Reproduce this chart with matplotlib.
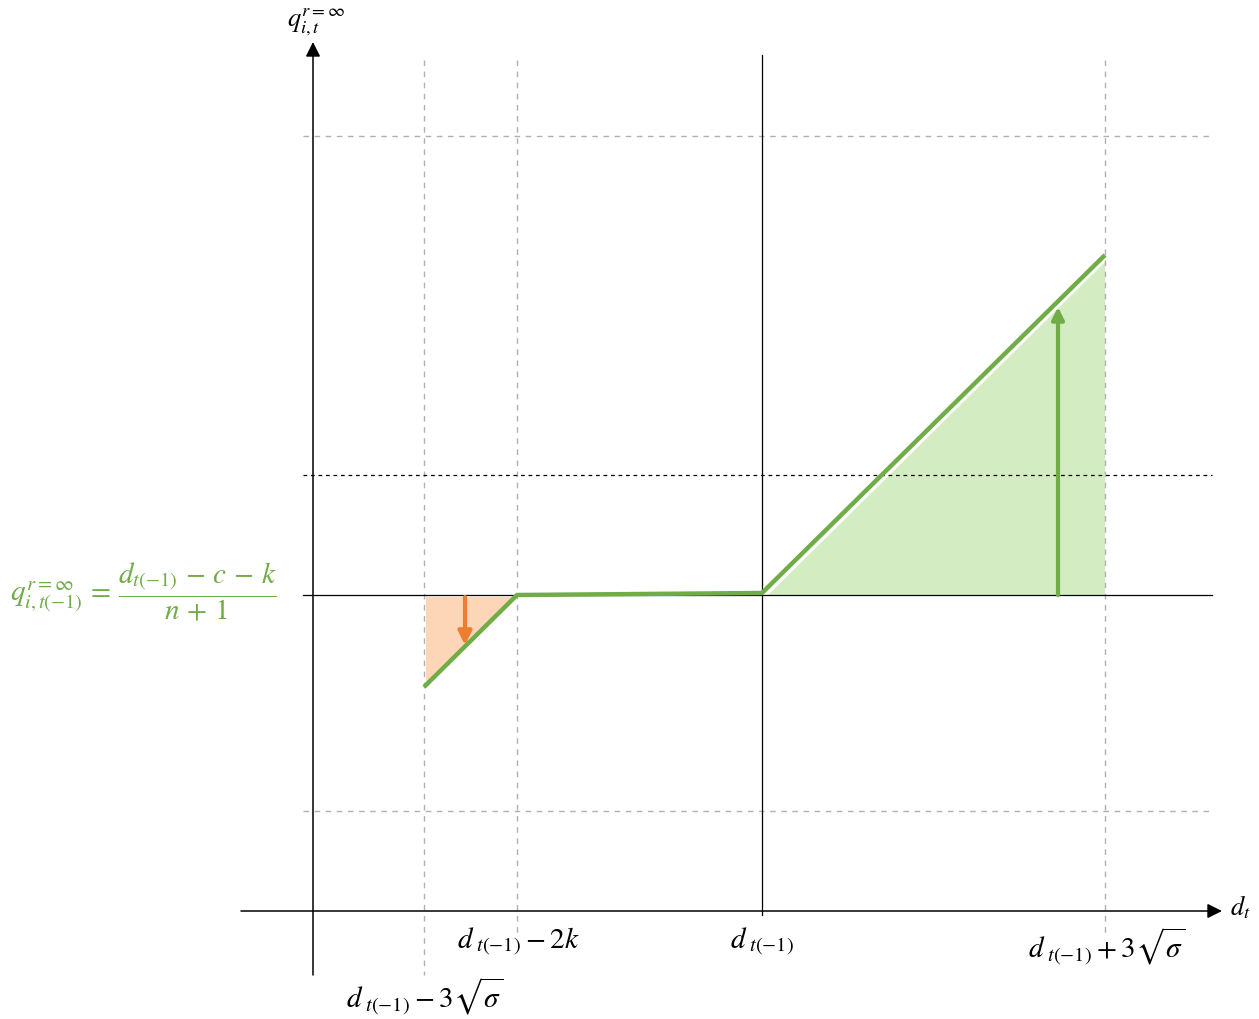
import matplotlib
matplotlib.use("Agg")
import matplotlib.pyplot as plt

plt.rcParams['mathtext.fontset'] = 'stix'
plt.rcParams['font.family'] = ['DejaVu Serif']

# ---- schematic data (drawing units; y grows downward) ----
tick_x = [424, 517, 762, 1105]
tick_labels = [r'$d_{\ t(-1)} - 3\sqrt{\sigma}$', r'$d_{\ t(-1)} - 2k$',
               r'$d_{\ t(-1)}$', r'$d_{\ t(-1)} + 3\sqrt{\sigma}$']
tick_label_x = [425, 518, 762, 1107]
tick_label_y = [996, 942, 942, 946]

curve_x = [424, 517, 762, 1105]
curve_y = [687, 595, 593, 255]

base_y = 595            # q level line
dash_black_y = 475
dash_gray_y = [136, 811]
axis_x0 = 313           # vertical axis
axis_y0 = 911           # horizontal axis

orange_fill_x = [426, 517, 426]
orange_fill_y = [597, 597, 685]
green_fill_x = [768, 1105, 1105]
green_fill_y = [595, 595, 262]

down_arrow = (465, 597, 645)   # x, y start, y end
up_arrow = (1058, 595, 307)

GREEN = '#70ad47'
LGREEN = '#d4ecc2'
ORANGE = '#ed7d31'
LORANGE = '#fdd6b7'
GRAY = '#b0b0b0'

fig = plt.figure(figsize=(12.59, 10.19), dpi=100)
ax = fig.add_axes([0, 0, 1, 1])
ax.set_xlim(0, 1259)
ax.set_ylim(1019, 0)
ax.axis('off')

# fills
ax.fill(orange_fill_x, orange_fill_y, color=LORANGE, lw=0, zorder=1)
ax.fill(green_fill_x, green_fill_y, color=LGREEN, lw=0, zorder=1)

# gray dashed guides
for y in dash_gray_y:
    ax.plot([303, 1212], [y, y], color=GRAY, lw=1, ls=(0, (4, 4)), zorder=2)
for x, yb in zip([424, 517, 1105], [975, 935, 935]):
    ax.plot([x, x], [60, yb], color=GRAY, lw=1, ls=(0, (4, 4)), zorder=2)
ax.plot([303, 1212], [dash_black_y, dash_black_y], color='black', lw=0.9,
        ls=(0, (3, 3)), zorder=2)

# solid lines
ax.plot([303, 1212], [base_y, base_y], color='black', lw=0.9, zorder=2)
ax.plot([762, 762], [55, 915], color='black', lw=0.9, zorder=2)

# axes with arrows
ax.annotate('', xy=(1222, axis_y0), xytext=(241, axis_y0),
            arrowprops=dict(arrowstyle='-|>', color='black', lw=1.1,
                            mutation_scale=22, shrinkA=0, shrinkB=0), zorder=3)
ax.annotate('', xy=(axis_x0, 42), xytext=(axis_x0, 975),
            arrowprops=dict(arrowstyle='-|>', color='black', lw=1.1,
                            mutation_scale=22, shrinkA=0, shrinkB=0), zorder=3)

# curve
ax.plot(curve_x, curve_y, color=GREEN, lw=3.2, solid_capstyle='butt', zorder=5)

# arrows
ax.annotate('', xy=(down_arrow[0], down_arrow[2]), xytext=(down_arrow[0], down_arrow[1]),
            arrowprops=dict(arrowstyle='-|>', color=ORANGE, lw=3,
                            mutation_scale=20, shrinkA=0, shrinkB=0), zorder=4)
ax.annotate('', xy=(up_arrow[0], up_arrow[2]), xytext=(up_arrow[0], up_arrow[1]),
            arrowprops=dict(arrowstyle='-|>', color=GREEN, lw=3,
                            mutation_scale=18, shrinkA=0, shrinkB=0), zorder=4)

# labels
for x, lab, y in zip(tick_label_x, tick_labels, tick_label_y):
    ax.text(x, y, lab, fontsize=21, ha='center', va='center')
ax.text(1230, 907, r'$d_t$', fontsize=19, ha='left', va='center')
ax.text(287, 22, r'$q_{i,t}^{r=\infty}$', fontsize=19, ha='left', va='center')
ax.text(10, 592,
        r'$q_{i,t(-1)}^{r=\infty}\,=\,\dfrac{d_{t(-1)}\,-\,c\,-\,k}{n\,+\,1}$',
        fontsize=21, ha='left', va='center', color=GREEN)

fig.savefig('out.png', dpi=100)
